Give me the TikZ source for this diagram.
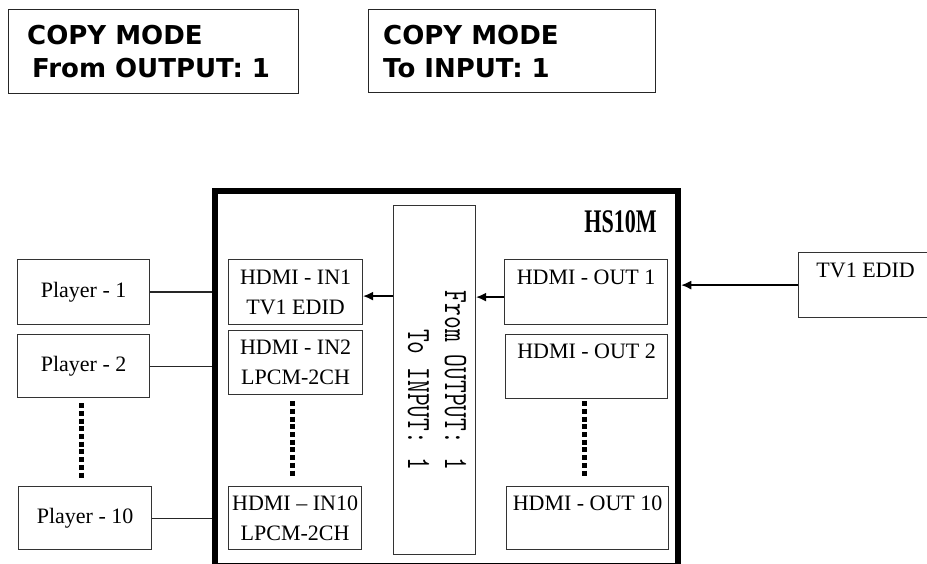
\documentclass[tikz,border=0pt]{standalone}
\usepackage{fontspec}
\setmainfont{Liberation Serif}
\newfontfamily\lcdfont{DejaVu Sans}
\usetikzlibrary{arrows.meta}
\begin{document}
\begin{tikzpicture}[x=1pt,y=-1pt,
  box/.style={draw=black!80, line width=1.2pt, inner sep=0pt, align=center, anchor=north west, font=\fontsize{22}{30}\selectfont},
  lcd/.style={draw=black!85, line width=1.4pt, inner sep=0pt, anchor=north west},
  lcdtext/.style={font=\lcdfont\bfseries\fontsize{26}{30}\selectfont, inner sep=0pt, anchor=base west},
  vtext/.style={rotate=-90, anchor=base east, inner sep=0pt, font=\ttfamily\fontsize{34}{34}\selectfont},
  arr/.style={line width=1.3pt, -{Latex[length=10pt,width=9pt]}},
  wire/.style={line width=1.2pt, draw=black!85},
  dots/.style={line width=5.5pt, dash pattern=on 5pt off 2.7pt}]
\useasboundingbox (0,0) rectangle (927,564);

% LCD boxes
\node[lcd, minimum width=290pt, minimum height=84pt] (lcd1) at (8,9) {};
\node[lcd, minimum width=287pt, minimum height=83pt] (lcd2) at (368,9) {};
\node[lcdtext] (l1a) at (27,45) {COPY MODE};
\node[lcdtext] (l1b) at (32,78) {From OUTPUT: 1};
\node[lcdtext] (l2a) at (383,45) {COPY MODE};
\node[lcdtext] (l2b) at (383,78) {To INPUT: 1};

% main unit
\node[draw, line width=6.5pt, minimum width=463pt, minimum height=375pt, inner sep=0pt] (hs) at (446.5,378.5) {};
\node[anchor=east, inner sep=0pt, font=\fontsize{33}{33}\selectfont\bfseries] (hsl) at (657,222) {\scalebox{0.67}[1]{HS10M}};

% middle box
\node[box, minimum width=82pt, minimum height=349pt] (mid) at (393,205) {};
\node[vtext] (v1) at (445,470) {\scalebox{0.73}[1]{From OUTPUT: 1}};
\node[vtext] (v2) at (408,470) {\scalebox{0.73}[1]{To INPUT: 1}};

% inputs
\node[box, minimum width=134pt, minimum height=65pt] (in1) at (228,259) {HDMI - IN1\\TV1 EDID};
\node[box, minimum width=134pt, minimum height=64pt] (in2) at (228,330) {HDMI - IN2\\LPCM-2CH};
\node[box, minimum width=133pt, minimum height=63pt] (in10) at (228,486) {HDMI -- IN10\\LPCM-2CH};

% outputs
\node[box, minimum width=163pt, minimum height=65pt] (out1) at (504,259) {HDMI - OUT 1\\\mbox{}};
\node[box, minimum width=162pt, minimum height=64pt] (out2) at (505,334) {HDMI - OUT 2\\\mbox{}};
\node[box, minimum width=162pt, minimum height=63pt] (out10) at (506,486) {HDMI - OUT 10\\\mbox{}};

% players
\node[box, minimum width=132pt, minimum height=65pt] (p1) at (17,259) {Player - 1};
\node[box, minimum width=132pt, minimum height=63pt] (p2) at (17,334) {Player - 2};
\node[box, minimum width=133pt, minimum height=63pt] (p10) at (18,486) {Player - 10};

% TV
\node[box, minimum width=134pt, minimum height=65pt] (tv) at (798,252) {TV1 EDID\\\mbox{}};

% connectors
\draw[wire] (p1.east) -- (p1.east -| hs.west);
\draw[wire] (p2.east) -- (p2.east -| hs.west);
\draw[wire] (p10.east) -- (p10.east -| hs.west);
\draw[arr] (tv.west) -- (tv.west -| hs.east);
\draw[arr] ([yshift=-5pt]out1.west) -- ([yshift=-5pt]out1.west -| mid.east);
\draw[arr] ([yshift=-4pt]in1.east -| mid.west) -- ([yshift=-4pt]in1.east);

% dotted continuation marks
\draw[dots] ([xshift=-2pt,yshift=-5pt]p2.south) -- ([xshift=-3.5pt,yshift=8pt]p10.north);
\draw[dots] ([xshift=-3pt,yshift=-6pt]in2.south) -- ([xshift=-2.5pt,yshift=9pt]in10.north);
\draw[dots] ([xshift=-2pt,yshift=-2pt]out2.south) -- ([xshift=-3pt,yshift=9pt]out10.north);
\end{tikzpicture}
\end{document}
